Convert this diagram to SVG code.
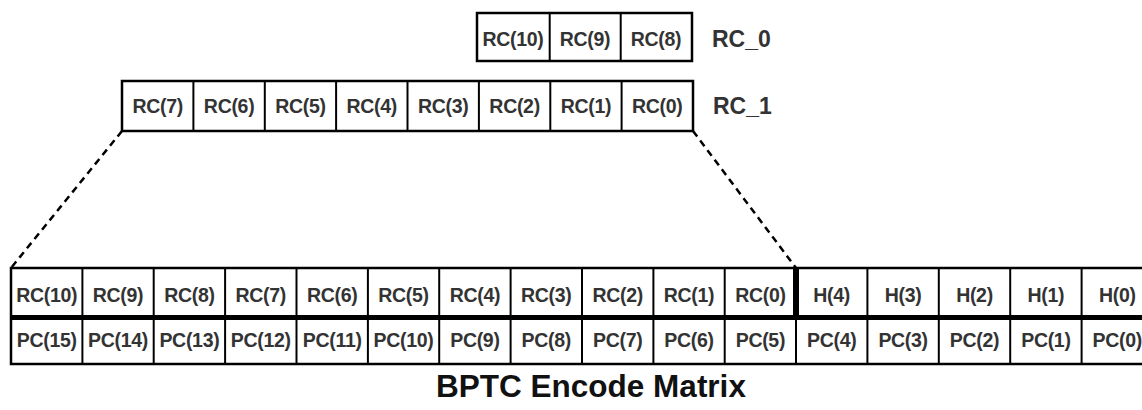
<svg xmlns="http://www.w3.org/2000/svg" width="1142" height="410" viewBox="0 0 1142 410">
<style>
.box{fill:#fff;stroke:#000;stroke-width:2.5}
.ln{stroke:#000;stroke-width:2}
.t{font-family:"Liberation Sans",Arial,sans-serif;font-weight:bold;font-size:19.5px;letter-spacing:-0.3px;fill:#333;text-anchor:middle}
.lbl{font-family:"Liberation Sans",Arial,sans-serif;font-weight:bold;font-size:23px;fill:#333}
.title{font-family:"Liberation Sans",Arial,sans-serif;font-weight:bold;font-size:31.5px;fill:#111;text-anchor:middle}
.dash{stroke:#000;stroke-width:2.5;stroke-dasharray:7,5;fill:none}
</style>
<rect width="1142" height="410" fill="#fff"/>
<g id="connectors">
<line class="dash" x1="122" y1="131" x2="11" y2="268"/>
<line class="dash" x1="693" y1="131" x2="796" y2="268"/>
</g>
<g id="rc0">
<rect class="box" x="477" y="13" width="215" height="48"/>
<line class="ln" x1="549.7" y1="13" x2="549.7" y2="61"/>
<line class="ln" x1="620.7" y1="13" x2="620.7" y2="61"/>
<text class="t" x="513" y="45.5">RC(10)</text>
<text class="t" x="585" y="45.5">RC(9)</text>
<text class="t" x="656" y="45.5">RC(8)</text>
<text class="lbl" x="712" y="47">RC_0</text>
</g>
<g id="rc1">
<rect class="box" x="122" y="81" width="571" height="50"/>
<line class="ln" x1="193.4" y1="81" x2="193.4" y2="131"/>
<line class="ln" x1="264.8" y1="81" x2="264.8" y2="131"/>
<line class="ln" x1="336.1" y1="81" x2="336.1" y2="131"/>
<line class="ln" x1="407.5" y1="81" x2="407.5" y2="131"/>
<line class="ln" x1="478.9" y1="81" x2="478.9" y2="131"/>
<line class="ln" x1="550.3" y1="81" x2="550.3" y2="131"/>
<line class="ln" x1="621.6" y1="81" x2="621.6" y2="131"/>
<text class="t" x="157.7" y="112.5">RC(7)</text>
<text class="t" x="229.1" y="112.5">RC(6)</text>
<text class="t" x="300.5" y="112.5">RC(5)</text>
<text class="t" x="371.8" y="112.5">RC(4)</text>
<text class="t" x="443.2" y="112.5">RC(3)</text>
<text class="t" x="514.6" y="112.5">RC(2)</text>
<text class="t" x="586" y="112.5">RC(1)</text>
<text class="t" x="657.3" y="112.5">RC(0)</text>
<text class="lbl" x="713" y="114">RC_1</text>
</g>
<g id="matrix">
<rect class="box" x="11" y="268" width="1142" height="96"/>
<line x1="11" y1="317.5" x2="1153" y2="317.5" stroke="#000" stroke-width="5"/>
<line x1="796" y1="268" x2="796" y2="317.5" stroke="#000" stroke-width="6"/>
<g class="ln">
<line x1="82.4" y1="268" x2="82.4" y2="364"/>
<line x1="153.7" y1="268" x2="153.7" y2="364"/>
<line x1="225.1" y1="268" x2="225.1" y2="364"/>
<line x1="296.5" y1="268" x2="296.5" y2="364"/>
<line x1="367.9" y1="268" x2="367.9" y2="364"/>
<line x1="439.2" y1="268" x2="439.2" y2="364"/>
<line x1="510.6" y1="268" x2="510.6" y2="364"/>
<line x1="582" y1="268" x2="582" y2="364"/>
<line x1="653.4" y1="268" x2="653.4" y2="364"/>
<line x1="724.7" y1="268" x2="724.7" y2="364"/>
<line x1="796" y1="317.5" x2="796" y2="364"/>
<line x1="867.4" y1="268" x2="867.4" y2="364"/>
<line x1="938.8" y1="268" x2="938.8" y2="364"/>
<line x1="1010.2" y1="268" x2="1010.2" y2="364"/>
<line x1="1081.6" y1="268" x2="1081.6" y2="364"/>
</g>
<text class="t" x="46.7" y="302">RC(10)</text>
<text class="t" x="118" y="302">RC(9)</text>
<text class="t" x="189.4" y="302">RC(8)</text>
<text class="t" x="260.8" y="302">RC(7)</text>
<text class="t" x="332.2" y="302">RC(6)</text>
<text class="t" x="403.5" y="302">RC(5)</text>
<text class="t" x="474.9" y="302">RC(4)</text>
<text class="t" x="546.3" y="302">RC(3)</text>
<text class="t" x="617.7" y="302">RC(2)</text>
<text class="t" x="689" y="302">RC(1)</text>
<text class="t" x="760.4" y="302">RC(0)</text>
<text class="t" x="831.7" y="302">H(4)</text>
<text class="t" x="903.1" y="302">H(3)</text>
<text class="t" x="974.5" y="302">H(2)</text>
<text class="t" x="1045.9" y="302">H(1)</text>
<text class="t" x="1117.3" y="302">H(0)</text>
<text class="t" x="46.7" y="346.5">PC(15)</text>
<text class="t" x="118" y="346.5">PC(14)</text>
<text class="t" x="189.4" y="346.5">PC(13)</text>
<text class="t" x="260.8" y="346.5">PC(12)</text>
<text class="t" x="332.2" y="346.5">PC(11)</text>
<text class="t" x="403.5" y="346.5">PC(10)</text>
<text class="t" x="474.9" y="346.5">PC(9)</text>
<text class="t" x="546.3" y="346.5">PC(8)</text>
<text class="t" x="617.7" y="346.5">PC(7)</text>
<text class="t" x="689" y="346.5">PC(6)</text>
<text class="t" x="760.4" y="346.5">PC(5)</text>
<text class="t" x="831.7" y="346.5">PC(4)</text>
<text class="t" x="903.1" y="346.5">PC(3)</text>
<text class="t" x="974.5" y="346.5">PC(2)</text>
<text class="t" x="1045.9" y="346.5">PC(1)</text>
<text class="t" x="1117.3" y="346.5">PC(0)</text>
</g>
<g id="title">
<text class="title" x="591" y="397">BPTC Encode Matrix</text>
</g>
</svg>
